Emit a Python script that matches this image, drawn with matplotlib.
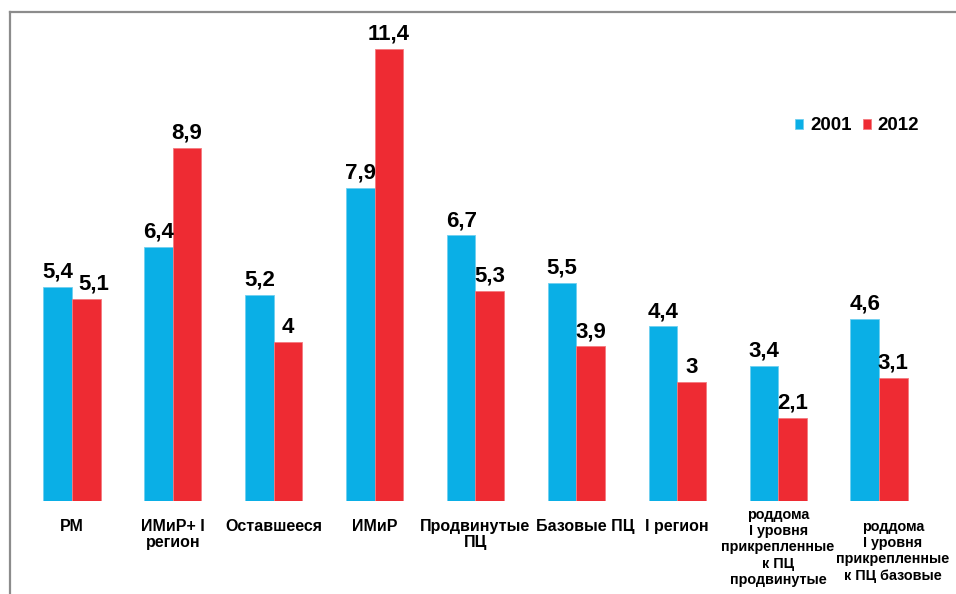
import matplotlib
matplotlib.use("Agg")
import matplotlib.pyplot as plt
from matplotlib.lines import Line2D
import numpy as np

categories = ["РМ", "ИМиР+ I\nрегион", "Оставшееся", "ИМиР", "Продвинутые\nПЦ",
              "Базовые ПЦ", "I регион",
              "роддома\nI уровня\nприкрепленные\nк ПЦ\nпродвинутые",
              "роддома\nI уровня\nприкрепленные\nк ПЦ базовые"]
series_names = ["2001", "2012"]
values_2001 = [5.4, 6.4, 5.2, 7.9, 6.7, 5.5, 4.4, 3.4, 4.6]
values_2012 = [5.1, 8.9, 4.0, 11.4, 5.3, 3.9, 3.0, 2.1, 3.1]

# style
colors = ["#0AAFE6", "#EE2B33"]
label_drop_px = [18, 18, 18, 18, 18, 18, 18, 7, 19]
label_dx_px = [0, 0, 0, 0, 0, 9, 0, 0, 14]
label_size = [11.5, 11.5, 11.5, 11.5, 11.5, 11.5, 11.5, 10.4, 10.4]
label_ls = [1.08, 1.08, 1.08, 1.08, 1.08, 1.08, 1.08, 1.2, 1.2]
red_label_dx_px = [7, 0, 0, 0, 0, 0, 0, 0, 0]

plt.rcParams['font.family'] = ['Liberation Sans', 'DejaVu Sans']
plt.rcParams['font.weight'] = 'bold'

W, H = 956, 594
fig = plt.figure(figsize=(W / 100, H / 100), dpi=100)
fig.patch.set_facecolor("white")

left_px, right_px, top_px, base_px = 10, 956, 12, 501
ax = fig.add_axes([left_px / W, (H - base_px) / H, (right_px - left_px) / W, (base_px - top_px) / H])

step = 100.875
c0 = 72
ax.set_xlim((left_px - c0) / step, (right_px - c0) / step)
unit = 39.67
ax.set_ylim(0, (base_px - top_px) / unit)

x = np.arange(len(categories))
bw = 0.283
b1 = ax.bar(x - bw / 2, values_2001, bw, color=colors[0], label=series_names[0],
            edgecolor="#6fd0f0", linewidth=0.6)
b2 = ax.bar(x + bw / 2, values_2012, bw, color=colors[1], label=series_names[1],
            edgecolor="#f47a7f", linewidth=0.6)

def fmt(v):
    return f"{v:g}".replace(".", ",")

for bars, vals, dxs in ((b1, values_2001, [0] * len(values_2001)),
                        (b2, values_2012, red_label_dx_px)):
    for rect, v, dx in zip(bars, vals, dxs):
        ax.annotate(fmt(v), xy=(rect.get_x() + rect.get_width() / 2, v),
                    xytext=(dx * 0.72, 3), textcoords="offset points",
                    ha="center", va="bottom", fontsize=16, fontweight="bold")

for i, (cat, d, dx, fs, ls) in enumerate(zip(categories, label_drop_px, label_dx_px,
                                               label_size, label_ls)):
    ax.annotate(cat, xy=(i, 0), xycoords=("data", "axes fraction"),
                xytext=(dx * 0.72, -d * 0.72), textcoords="offset points",
                ha="center", va="top", fontsize=fs, fontweight="bold",
                linespacing=ls, annotation_clip=False)

for s in ax.spines.values():
    s.set_visible(False)
ax.set_xticks([])
ax.set_yticks([])

leg = ax.legend(loc="center left", bbox_to_anchor=(795 / W, 1 - 126 / H),
                bbox_transform=fig.transFigure, ncol=2, frameon=False,
                fontsize=13.5, handlelength=0.45, handleheight=0.45,
                handletextpad=0.35, columnspacing=0.6, borderpad=0,
                borderaxespad=0)
for t in leg.get_texts():
    t.set_fontweight("bold")

fig.add_artist(Line2D([left_px / W, 1], [1 - top_px / H, 1 - top_px / H],
                      transform=fig.transFigure, color="#8c8c8c", lw=1.6))
fig.add_artist(Line2D([left_px / W, left_px / W], [0, 1 - top_px / H],
                      transform=fig.transFigure, color="#8c8c8c", lw=1.6))

fig.savefig("out.png", dpi=100, facecolor="white")
